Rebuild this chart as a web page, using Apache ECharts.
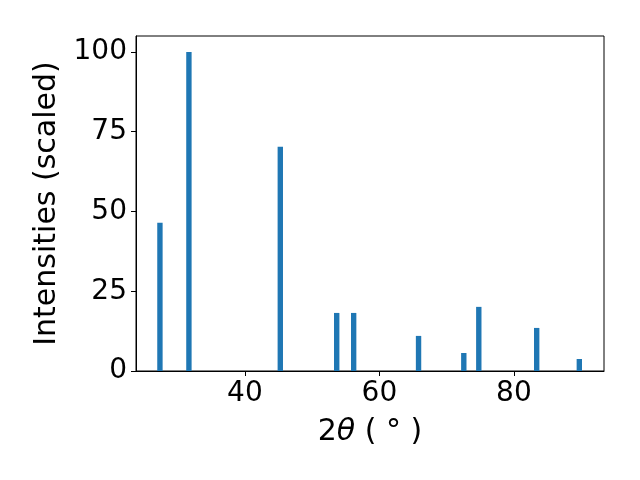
<!DOCTYPE html>
<html>
<head>
<meta charset="utf-8">
<script src="https://cdn.jsdelivr.net/npm/echarts@6/dist/echarts.min.js"></script>
<style>html,body{margin:0;padding:0;background:#fff}#c{width:640px;height:480px}</style>
</head>
<body>
<div id="c"></div>
<script>
var twoTheta = [27.36, 31.67, 45.26, 53.65, 56.17, 65.82, 72.55, 74.78, 83.39, 89.73];
var intensity = [46.5, 100, 70.3, 18.2, 18.2, 11.0, 5.65, 20.1, 13.5, 3.76];
var xTicks = [40, 60, 80];
var yTicks = [0, 25, 50, 75, 100];
var barWidthDeg = 0.8;

var FONT = 'DejaVu Sans';
var data = twoTheta.map(function (x, i) { return [x, intensity[i]]; });

var chart = echarts.init(document.getElementById('c'), null, {renderer: 'canvas'});
chart.setOption({
  backgroundColor: '#fff',
  animation: false,
  grid: {left: 136, right: 36, top: 36, bottom: 109, show: true, borderColor: '#000', borderWidth: 1, containLabel: false},
  xAxis: {
    type: 'value', min: 23.8, max: 93.4,
    name: '2{i|θ} ( ° )', nameLocation: 'middle', nameGap: 46,
    nameTextStyle: {fontFamily: FONT, fontSize: 30, color: '#000',
      rich: {i: {fontFamily: FONT, fontStyle: 'italic', fontSize: 30, color: '#000'}}},
    splitLine: {show: false},
    axisLine: {show: true, lineStyle: {color: '#000', width: 1}},
    axisTick: {show: true, inside: false, length: 5, lineStyle: {color: '#000'}, customValues: xTicks},
    axisLabel: {fontFamily: FONT, fontSize: 28, color: '#000', margin: 9, customValues: xTicks}
  },
  yAxis: {
    type: 'value', min: 0, max: 105,
    name: 'Intensities (scaled)', nameLocation: 'middle', nameGap: 73,
    nameTextStyle: {fontFamily: FONT, fontSize: 30, color: '#000'},
    splitLine: {show: false},
    axisLine: {show: true, lineStyle: {color: '#000', width: 1}},
    axisTick: {show: true, inside: false, length: 5, lineStyle: {color: '#000'}, customValues: yTicks},
    axisLabel: {fontFamily: FONT, fontSize: 28, color: '#000', margin: 9, customValues: yTicks}
  },
  series: [{
    type: 'custom',
    data: data,
    renderItem: function (params, api) {
      var x = api.value(0), y = api.value(1);
      var p1 = api.coord([x - barWidthDeg / 2, y]);
      var p2 = api.coord([x + barWidthDeg / 2, 0]);
      return {
        type: 'rect',
        shape: {x: p1[0], y: p1[1], width: p2[0] - p1[0], height: p2[1] - p1[1]},
        style: {fill: '#1f77b4'}
      };
    },
    encode: {x: 0, y: 1}
  }]
});
</script>
</body>
</html>
